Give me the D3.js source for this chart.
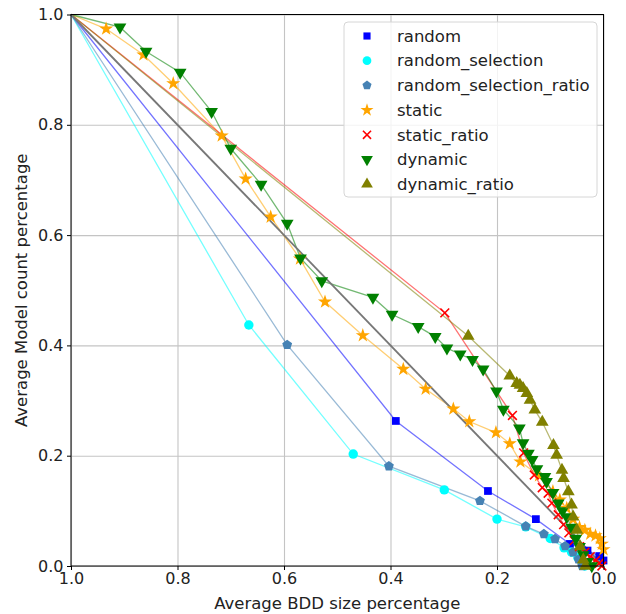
<!DOCTYPE html>
<html>
<head>
<meta charset="utf-8">
<script src="https://cdn.jsdelivr.net/npm/d3@7"></script>
<style>
  body { margin: 0; background: #fff; }
  svg { font-family: "DejaVu Sans", sans-serif; }
</style>
</head>
<body>
<div id="chart"></div>
<script>
const names = ["random", "random_selection", "random_selection_ratio", "static", "static_ratio", "dynamic", "dynamic_ratio"];
const colors = ["#0000ff", "#00ffff", "#4682b4", "#ffa500", "#ff0000", "#008000", "#808000"];

const rndX = [1.0, 0.39, 0.217, 0.127, 0.063, 0.03, 0.008, 0.0];
const rndY = [1.0, 0.263, 0.136, 0.085, 0.040, 0.028, 0.018, 0.01];

const rsX = [1.0, 0.666, 0.470, 0.299, 0.200, 0.146, 0.10, 0.074, 0.06, 0.048, 0.04, 0.035];
const rsY = [1.0, 0.437, 0.203, 0.138, 0.085, 0.071, 0.05, 0.033, 0.025, 0.015, 0.008, 0.0];

const rsrX = [1.0, 0.594, 0.403, 0.232, 0.146, 0.112, 0.091, 0.072, 0.057, 0.047, 0.04];
const rsrY = [1.0, 0.401, 0.181, 0.118, 0.072, 0.058, 0.049, 0.036, 0.025, 0.012, 0.0];

const stX = [1.0, 0.934, 0.864, 0.808, 0.717, 0.672, 0.625, 0.570, 0.523, 0.452, 0.376, 0.334, 0.282, 0.252, 0.202, 0.176, 0.156, 0.121, 0.095, 0.082, 0.069, 0.057, 0.045, 0.035, 0.025, 0.015, 0.007, 0.003, 0.0];
const stY = [1.0, 0.974, 0.927, 0.875, 0.780, 0.702, 0.633, 0.557, 0.479, 0.418, 0.357, 0.321, 0.285, 0.262, 0.242, 0.222, 0.189, 0.164, 0.135, 0.12, 0.105, 0.085, 0.07, 0.065, 0.058, 0.055, 0.05, 0.04, 0.03];

const srX = [1.0, 0.298, 0.171, 0.15, 0.13, 0.115, 0.104, 0.097, 0.085, 0.075, 0.065, 0.055, 0.045, 0.035, 0.025, 0.015, 0.008, 0.003];
const srY = [1.0, 0.459, 0.273, 0.205, 0.165, 0.142, 0.132, 0.114, 0.093, 0.075, 0.06, 0.046, 0.035, 0.025, 0.017, 0.01, 0.005, 0.0];

const dyX = [1.0, 0.908, 0.859, 0.795, 0.736, 0.700, 0.643, 0.594, 0.569, 0.529, 0.433, 0.397, 0.348, 0.316, 0.294, 0.269, 0.246, 0.226, 0.201, 0.188, 0.158, 0.151, 0.141, 0.134, 0.125, 0.11, 0.107, 0.095, 0.085, 0.077, 0.069, 0.06, 0.052, 0.045, 0.038, 0.03, 0.022];
const dyY = [1.0, 0.977, 0.933, 0.895, 0.824, 0.757, 0.692, 0.621, 0.558, 0.517, 0.487, 0.456, 0.434, 0.416, 0.395, 0.384, 0.374, 0.357, 0.317, 0.284, 0.25, 0.223, 0.204, 0.193, 0.176, 0.162, 0.153, 0.133, 0.114, 0.1, 0.089, 0.07, 0.05, 0.035, 0.02, 0.008, 0.0];

const drX = [1.0, 0.254, 0.176, 0.163, 0.157, 0.151, 0.144, 0.138, 0.129, 0.115, 0.094, 0.088, 0.078, 0.075, 0.066, 0.06, 0.057, 0.05, 0.044, 0.038, 0.034];
const drY = [1.0, 0.417, 0.345, 0.331, 0.328, 0.322, 0.313, 0.301, 0.283, 0.261, 0.219, 0.201, 0.174, 0.159, 0.135, 0.111, 0.089, 0.065, 0.035, 0.011, 0.0];

const diagX = [1.0, 0.0];
const diagY = [1.0, 0.0];

const xTicks = [1.0, 0.8, 0.6, 0.4, 0.2, 0.0];
const yTicks = [0.0, 0.2, 0.4, 0.6, 0.8, 1.0];

const xs = [rndX, rsX, rsrX, stX, srX, dyX, drX];
const ys = [rndY, rsY, rsrY, stY, srY, dyY, drY];

// pentagon for matplotlib "p"
const symbolPentagon = {
    draw(ctx, size) {
        const r = Math.sqrt(size / 2.378);
        for (let i = 0; i < 5; i++) {
            const a = -Math.PI / 2 + i * 2 * Math.PI / 5;
            const px = r * Math.cos(a), py = r * Math.sin(a);
            if (i === 0) ctx.moveTo(px, py); else ctx.lineTo(px, py);
        }
        ctx.closePath();
    }
};
const symbols = [
    { type: d3.symbolSquare, size: 60, rot: 0 },
    { type: d3.symbolCircle, size: 70, rot: 0 },
    { type: symbolPentagon, size: 64, rot: 0 },
    { type: d3.symbolStar, size: 62, rot: 0 },
    { type: d3.symbolTimes, size: 52, rot: 0, stroke: true },
    { type: d3.symbolTriangle, size: 70, rot: 180 },
    { type: d3.symbolTriangle, size: 70, rot: 0 }
];

const margin = { top: 14.5, right: 22.5, bottom: 48, left: 71 };
const W = 626, H = 614;
const width = W - margin.left - margin.right;
const height = H - margin.top - margin.bottom;

const svg = d3.select("#chart").append("svg")
    .attr("width", W).attr("height", H)
    .append("g")
    .attr("transform", `translate(${margin.left},${margin.top})`);

const x = d3.scaleLinear().domain([1, 0]).range([0, width]);
const y = d3.scaleLinear().domain([0, 1]).range([height, 0]);

// grid
svg.append("g")
    .attr("transform", `translate(0,${height})`)
    .call(d3.axisBottom(x).tickValues(xTicks).tickSize(-height).tickFormat(""))
    .call(g => g.select(".domain").remove())
    .selectAll("line").attr("stroke", "#c4c4c4").attr("stroke-width", 1.1);
svg.append("g")
    .call(d3.axisLeft(y).tickValues(yTicks).tickSize(-width).tickFormat(""))
    .call(g => g.select(".domain").remove())
    .selectAll("line").attr("stroke", "#c4c4c4").attr("stroke-width", 1.1);

const plot = svg.append("g");
const line = d3.line();

names.forEach((name, i) => {
    const pts = xs[i].map((v, j) => [x(v), y(ys[i][j])]);
    plot.append("path")
        .datum(pts)
        .attr("d", line)
        .attr("fill", "none")
        .attr("stroke", colors[i])
        .attr("stroke-opacity", 0.55)
        .attr("stroke-width", 1.3);
});

plot.append("path")
    .datum(diagX.map((v, j) => [x(v), y(diagY[j])]))
    .attr("d", line)
    .attr("fill", "none")
    .attr("stroke", "#777")
    .attr("stroke-width", 1.8);

function drawMarker(g, i, cx, cy, scale) {
    const s = symbols[i];
    const p = g.append("path")
        .attr("d", d3.symbol().type(s.type).size(s.size * scale)())
        .attr("transform", `translate(${cx},${cy}) rotate(${s.rot})`);
    if (s.stroke) p.attr("fill", "none").attr("stroke", colors[i]).attr("stroke-width", 1.6);
    else p.attr("fill", colors[i]);
}

names.forEach((name, i) => {
    xs[i].forEach((v, j) => {
        if (j === 0) return;
        drawMarker(plot, i, x(v), y(ys[i][j]), 1);
    });
});

// axes
const xAxis = svg.append("g")
    .attr("transform", `translate(0,${height})`)
    .call(d3.axisBottom(x).tickValues(xTicks).tickFormat(d3.format(".1f")).tickSize(4).tickPadding(3));
const yAxis = svg.append("g")
    .call(d3.axisLeft(y).tickValues(yTicks).tickFormat(d3.format(".1f")).tickSize(4).tickPadding(3.5));
[xAxis, yAxis].forEach(a => {
    a.selectAll("text").attr("font-size", 16).attr("fill", "#222").attr("font-family", "DejaVu Sans");
    a.select(".domain").remove();
});

svg.append("rect")
    .attr("width", width).attr("height", height)
    .attr("fill", "none").attr("stroke", "#000").attr("stroke-width", 1);

svg.append("text")
    .attr("x", width / 2).attr("y", height + 43)
    .attr("text-anchor", "middle")
    .attr("font-size", 16.5).attr("fill", "#222")
    .text("Average BDD size percentage");
svg.append("text")
    .attr("transform", `translate(${-44},${height / 2}) rotate(-90)`)
    .attr("text-anchor", "middle")
    .attr("font-size", 16.5).attr("fill", "#222")
    .text("Average Model count percentage");

// legend
const legend = svg.append("g").attr("transform", `translate(${273},${7.5})`);
legend.append("rect")
    .attr("width", 253).attr("height", 175).attr("rx", 4)
    .attr("fill", "#fff").attr("fill-opacity", 0.8)
    .attr("stroke", "#d6d6d6");
names.forEach((name, i) => {
    const ly = 14 + i * 24.7;
    drawMarker(legend, i, 23, ly, 0.85);
    legend.append("text")
        .attr("x", 53).attr("y", ly).attr("dy", "0.35em")
        .attr("font-size", 16.5).attr("fill", "#222")
        .text(name);
});
</script>
</body>
</html>
